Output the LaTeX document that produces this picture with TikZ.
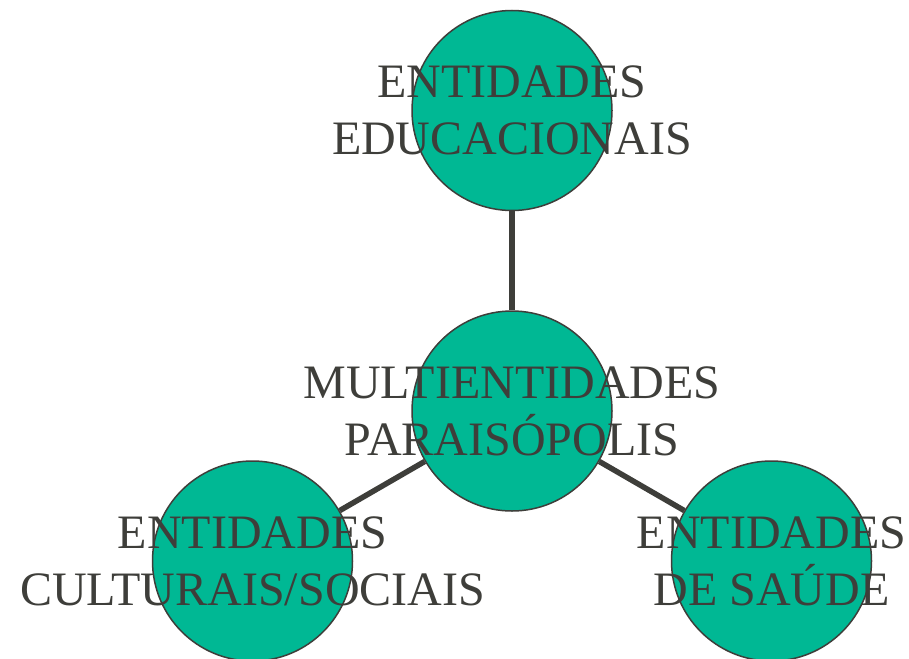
\documentclass[tikz,border=0pt]{standalone}
\usepackage{fontspec}
\setmainfont{Liberation Serif}
\usepackage{tikz}
\definecolor{verde}{HTML}{00B894}
\definecolor{cinza}{HTML}{3E3E3A}
\tikzset{
  entidade/.style={circle, fill=verde, draw=cinza, line width=1.5pt, minimum size=200pt, inner sep=0pt},
  rotulo/.style={text=cinza, align=center, inner sep=0pt, font=\fontsize{48}{57}\selectfont},
  ligacao/.style={draw=cinza, line width=5.5pt}
}
\begin{document}
\begin{tikzpicture}[x=1pt,y=-1pt]
\useasboundingbox (0,0) rectangle (909,658);
% draws circles
\node[entidade] (educ) at (512,110.5){};
\node[entidade] (multi) at (512,411){};
\node[entidade] (cult) at (252.5,561){};
\node[entidade] (saude) at (771.5,561){};
% draws edges
\draw[ligacao] (multi) to (educ);
\draw[ligacao] (multi) to (cult);
\draw[ligacao] (multi) to (saude);
% labels circles
\node[rotulo] (teduc) at (educ.center) {ENTIDADES\\EDUCACIONAIS};
\node[rotulo] (tmulti) at (multi.center) {MULTIENTIDADES\\PARAISÓPOLIS};
\node[rotulo] (tcult) at (cult.center) {ENTIDADES\\CULTURAIS/SOCIAIS};
\node[rotulo] (tsaude) at (saude.center) {ENTIDADES\\DE SAÚDE};
\end{tikzpicture}
\end{document}
